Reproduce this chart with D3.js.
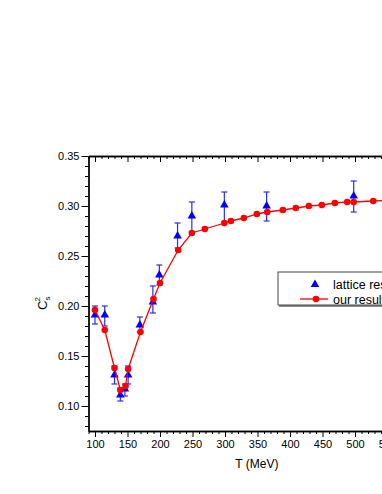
<!DOCTYPE html>
<html><head><meta charset="utf-8">
<script src="https://cdn.jsdelivr.net/npm/d3@7"></script>
<style>
body{margin:0;background:#fff;}
svg{display:block;font-family:"Liberation Sans",Arial,sans-serif;}
</style></head>
<body>
<svg id="c" width="382" height="494"></svg>
<script>
// Lattice results (blue triangles with error bars)
const latticeT   = [100, 115, 130, 139, 146, 151, 169, 189, 199, 227, 249, 299, 364, 498];
const latticeCs2 = [0.191, 0.191, 0.131, 0.111, 0.117, 0.131, 0.181, 0.204, 0.231, 0.270, 0.290, 0.301, 0.300, 0.310];
const latticeLo  = [0.182, 0.180, 0.122, 0.105, 0.110, 0.122, 0.174, 0.193, 0.221, 0.258, 0.274, 0.284, 0.285, 0.294];
const latticeHi  = [0.200, 0.200, 0.140, 0.118, 0.122, 0.140, 0.189, 0.220, 0.241, 0.283, 0.304, 0.314, 0.314, 0.325];
// Our results (red line with circles)
const ourT   = [100, 115, 130, 139, 147, 151, 170, 190, 200, 228, 249, 269, 299, 309, 329, 349, 365, 389, 409, 429, 449, 469, 488, 498, 528, 558, 588];
const ourCs2 = [0.196, 0.176, 0.138, 0.116, 0.120, 0.137, 0.174, 0.207, 0.223, 0.256, 0.273, 0.277, 0.283, 0.285, 0.288, 0.292, 0.294, 0.296, 0.298, 0.300, 0.301, 0.303, 0.304, 0.304, 0.305, 0.306, 0.307];
// Axis ticks
const xMajor = [100, 150, 200, 250, 300, 350, 400, 450, 500, 550, 600];
const yMajor = [0.10, 0.15, 0.20, 0.25, 0.30, 0.35];
const legendLabels = ["lattice results", "our results"];

const svg = d3.select("#c");
const x = d3.scaleLinear().domain([90, 608]).range([88.5, 425.2]);
const y = d3.scaleLinear().domain([0.075, 0.35]).range([431, 156]);
const xMinor = d3.range(90, 601, 10).filter(v => v % 50 !== 0);
const yMinor = d3.range(8, 35, 1).map(v => v / 100).filter(v => Math.round(v * 100) % 5 !== 0);

function styleAxis(g) {
  g.selectAll("path").attr("stroke", "#000").attr("stroke-width", 1.3);
  g.selectAll("line").attr("stroke", "#000").attr("stroke-width", 1);
  g.selectAll("text").attr("fill", "#000").style("font-size", "11px");
}
// bottom
svg.append("g").attr("transform", `translate(0,${y(0.075)})`)
  .call(d3.axisBottom(x).tickValues(xMinor).tickSize(3).tickFormat("").tickSizeOuter(0)).call(styleAxis);
svg.append("g").attr("transform", `translate(0,${y(0.075)})`)
  .call(d3.axisBottom(x).tickValues(xMajor).tickSize(6).tickPadding(3).tickFormat(d3.format("d")).tickSizeOuter(0)).call(styleAxis);
// top (inward ticks)
svg.append("g").attr("transform", `translate(0,${y(0.35)})`)
  .call(d3.axisBottom(x).tickValues(xMinor).tickSize(3).tickFormat("").tickSizeOuter(0)).call(styleAxis);
svg.append("g").attr("transform", `translate(0,${y(0.35)})`)
  .call(d3.axisBottom(x).tickValues(xMajor).tickSize(6).tickFormat("").tickSizeOuter(0)).call(styleAxis);
// left
svg.append("g").attr("transform", `translate(${x(90)},0)`)
  .call(d3.axisLeft(y).tickValues(yMinor).tickSize(3.5).tickFormat("").tickSizeOuter(0)).call(styleAxis);
svg.append("g").attr("transform", `translate(${x(90)},0)`)
  .call(d3.axisLeft(y).tickValues(yMajor).tickSize(7).tickPadding(2).tickFormat(d3.format(".2f")).tickSizeOuter(0)).call(styleAxis);

// axis titles
svg.append("text").attr("x", (x.range()[0] + x.range()[1]) / 2).attr("y", 468)
  .attr("text-anchor", "middle").style("font-size", "12px").text("T (MeV)");
const yl = svg.append("text").attr("transform", "translate(47,310) rotate(-90)")
  .style("font-size", "13px");
yl.append("tspan").text("C");
yl.append("tspan").attr("dy", 3).style("font-size", "8px").text("s");
yl.append("tspan").attr("dx", -5).attr("dy", -10).style("font-size", "8px").text("2");

// error bars
const lat = latticeT.map((t, i) => ({t, v: latticeCs2[i], lo: latticeLo[i], hi: latticeHi[i]}));
const eb = svg.append("g").attr("stroke", "#2a2aff").attr("stroke-width", 1.2);
lat.forEach(d => {
  eb.append("line").attr("x1", x(d.t)).attr("x2", x(d.t)).attr("y1", y(d.lo)).attr("y2", y(d.hi));
  eb.append("line").attr("x1", x(d.t) - 3).attr("x2", x(d.t) + 3).attr("y1", y(d.lo)).attr("y2", y(d.lo));
  eb.append("line").attr("x1", x(d.t) - 3).attr("x2", x(d.t) + 3).attr("y1", y(d.hi)).attr("y2", y(d.hi));
});
const tri = d3.symbol().type(d3.symbolTriangle).size(32);
svg.append("g").selectAll("path").data(lat).join("path")
  .attr("d", tri).attr("transform", d => `translate(${x(d.t)},${y(d.v)})`).attr("fill", "#0000ff");

// red line
const ours = ourT.map((t, i) => ({t, v: ourCs2[i]}));
svg.append("path").datum(ours)
  .attr("d", d3.line().x(d => x(d.t)).y(d => y(d.v)))
  .attr("fill", "none").attr("stroke", "#ff0000").attr("stroke-width", 1.3);
svg.append("g").selectAll("circle").data(ours).join("circle")
  .attr("cx", d => x(d.t)).attr("cy", d => y(d.v)).attr("r", 3.3).attr("fill", "#ff0000");

// legend
const lg = svg.append("g");
lg.append("rect").attr("x", 279).attr("y", 273).attr("width", 140).attr("height", 34).attr("fill", "#888");
lg.append("rect").attr("x", 278).attr("y", 272).attr("width", 140).attr("height", 33)
  .attr("fill", "#fff").attr("stroke", "#444").attr("stroke-width", 1);
lg.append("path").attr("d", tri).attr("transform", "translate(315,284.5)").attr("fill", "#0000ff");
lg.append("line").attr("x1", 300).attr("x2", 328).attr("y1", 299).attr("y2", 299).attr("stroke", "#ff0000").attr("stroke-width", 1.3);
lg.append("circle").attr("cx", 316).attr("cy", 299).attr("r", 3.3).attr("fill", "#ff0000");
lg.append("text").attr("x", 333).attr("y", 289).style("font-size", "12.5px").text(legendLabels[0]);
lg.append("text").attr("x", 333).attr("y", 303.5).style("font-size", "12.5px").text(legendLabels[1]);
</script>
</body></html>
